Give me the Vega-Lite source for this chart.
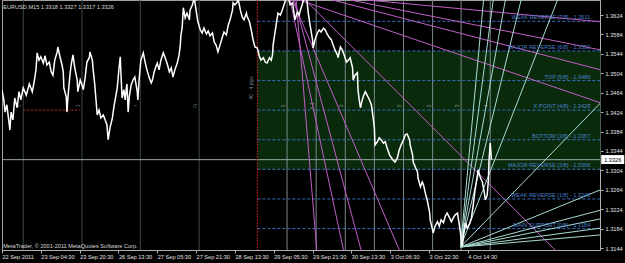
{
  "$schema": "https://vega.github.io/schema/vega-lite/v6.json",
  "width": 598,
  "height": 250,
  "autosize": {"type": "none"},
  "padding": {"left": 2, "top": 0, "right": 25, "bottom": 13},
  "background": "#000000",
  "config": {
    "view": {"stroke": "#a0a0a0", "strokeWidth": 1},
    "font": "Liberation Sans",
    "axis": {"labelFont": "Liberation Sans", "labelFontSize": 5.6, "labelColor": "#e0e0e0", "tickColor": "#b0b0b0", "domainColor": "#b0b0b0", "tickSize": 3, "grid": false, "labelOverlap": false, "labelFlush": false, "labelBound": false}
  },
  "datasets": {
    "price": [
      {"b":0,"p":1.3470},{"b":3,"p":1.3449},{"b":5,"p":1.3424},{"b":8,"p":1.3439},{"b":12,"p":1.3398},{"b":13,"p":1.3387},{"b":15,"p":1.3424},{"b":18,"p":1.3408},{"b":21,"p":1.3453},{"b":25,"p":1.3433},{"b":28,"p":1.3466},{"b":31,"p":1.3449},{"b":35,"p":1.3474},{"b":40,"p":1.3459},{"b":45,"p":1.3482},{"b":50,"p":1.3466},{"b":53,"p":1.3486},{"b":56,"p":1.3511},{"b":58,"p":1.3546},{"b":61,"p":1.3531},{"b":64,"p":1.3538},{"b":68,"p":1.3525},{"b":71,"p":1.3540},{"b":74,"p":1.3521},{"b":78,"p":1.3527},{"b":81,"p":1.3507},{"b":84,"p":1.3500},{"b":87,"p":1.3531},{"b":91,"p":1.3548},{"b":92,"p":1.3558},{"b":96,"p":1.3536},{"b":99,"p":1.3521},{"b":101,"p":1.3507},{"b":102,"p":1.3474},{"b":106,"p":1.3455},{"b":107,"p":1.3424},{"b":109,"p":1.3459},{"b":112,"p":1.3500},{"b":114,"p":1.3521},{"b":117,"p":1.3542},{"b":120,"p":1.3515},{"b":124,"p":1.3490},{"b":125,"p":1.3466},{"b":129,"p":1.3490},{"b":132,"p":1.3480},{"b":134,"p":1.3470},{"b":137,"p":1.3494},{"b":140,"p":1.3527},{"b":144,"p":1.3536},{"b":145,"p":1.3548},{"b":149,"p":1.3531},{"b":150,"p":1.3515},{"b":153,"p":1.3480},{"b":155,"p":1.3449},{"b":157,"p":1.3418},{"b":160,"p":1.3428},{"b":163,"p":1.3412},{"b":167,"p":1.3418},{"b":170,"p":1.3408},{"b":173,"p":1.3398},{"b":175,"p":1.3367},{"b":178,"p":1.3391},{"b":182,"p":1.3412},{"b":185,"p":1.3439},{"b":188,"p":1.3459},{"b":190,"p":1.3474},{"b":193,"p":1.3515},{"b":195,"p":1.3538},{"b":196,"p":1.3507},{"b":198,"p":1.3453},{"b":201,"p":1.3470},{"b":203,"p":1.3449},{"b":205,"p":1.3474},{"b":206,"p":1.3482},{"b":208,"p":1.3424},{"b":210,"p":1.3457},{"b":213,"p":1.3480},{"b":216,"p":1.3490},{"b":219,"p":1.3496},{"b":223,"p":1.3466},{"b":224,"p":1.3449},{"b":226,"p":1.3490},{"b":229,"p":1.3531},{"b":233,"p":1.3546},{"b":236,"p":1.3527},{"b":239,"p":1.3511},{"b":243,"p":1.3494},{"b":246,"p":1.3484},{"b":248,"p":1.3490},{"b":251,"p":1.3507},{"b":254,"p":1.3519},{"b":256,"p":1.3525},{"b":259,"p":1.3511},{"b":262,"p":1.3531},{"b":266,"p":1.3546},{"b":269,"p":1.3536},{"b":272,"p":1.3525},{"b":276,"p":1.3507},{"b":279,"p":1.3515},{"b":282,"p":1.3496},{"b":285,"p":1.3511},{"b":289,"p":1.3525},{"b":292,"p":1.3542},{"b":294,"p":1.3562},{"b":295,"p":1.3583},{"b":297,"p":1.3597},{"b":299,"p":1.3639},{"b":302,"p":1.3618},{"b":305,"p":1.3628},{"b":309,"p":1.3614},{"b":310,"p":1.3634},{"b":314,"p":1.3645},{"b":317,"p":1.3660},{"b":320,"p":1.3634},{"b":323,"p":1.3610},{"b":327,"p":1.3593},{"b":330,"p":1.3587},{"b":333,"p":1.3597},{"b":337,"p":1.3585},{"b":340,"p":1.3591},{"b":343,"p":1.3581},{"b":347,"p":1.3587},{"b":350,"p":1.3568},{"b":353,"p":1.3562},{"b":356,"p":1.3548},{"b":360,"p":1.3564},{"b":363,"p":1.3577},{"b":366,"p":1.3589},{"b":370,"p":1.3583},{"b":373,"p":1.3603},{"b":376,"p":1.3614},{"b":380,"p":1.3634},{"b":381,"p":1.3649},{"b":384,"p":1.3645},{"b":388,"p":1.3651},{"b":389,"p":1.3660},{"b":393,"p":1.3634},{"b":396,"p":1.3620},{"b":399,"p":1.3614},{"b":403,"p":1.3628},{"b":404,"p":1.3622},{"b":408,"p":1.3610},{"b":411,"p":1.3593},{"b":414,"p":1.3573},{"b":417,"p":1.3558},{"b":421,"p":1.3556},{"b":424,"p":1.3540},{"b":427,"p":1.3531},{"b":431,"p":1.3536},{"b":434,"p":1.3527},{"b":437,"p":1.3525},{"b":441,"p":1.3536},{"b":444,"p":1.3531},{"b":446,"p":1.3542},{"b":447,"p":1.3562},{"b":450,"p":1.3587},{"b":452,"p":1.3603},{"b":455,"p":1.3628},{"b":459,"p":1.3624},{"b":462,"p":1.3634},{"b":465,"p":1.3645},{"b":469,"p":1.3660},{"b":472,"p":1.3660},{"b":475,"p":1.3645},{"b":479,"p":1.3649},{"b":482,"p":1.3624},{"b":483,"p":1.3614},{"b":487,"p":1.3630},{"b":490,"p":1.3624},{"b":492,"p":1.3634},{"b":495,"p":1.3645},{"b":498,"p":1.3660},{"b":502,"p":1.3660},{"b":503,"p":1.3651},{"b":505,"p":1.3628},{"b":508,"p":1.3603},{"b":512,"p":1.3573},{"b":513,"p":1.3556},{"b":516,"p":1.3573},{"b":520,"p":1.3587},{"b":523,"p":1.3593},{"b":526,"p":1.3589},{"b":530,"p":1.3597},{"b":533,"p":1.3593},{"b":536,"p":1.3585},{"b":540,"p":1.3577},{"b":543,"p":1.3573},{"b":546,"p":1.3562},{"b":549,"p":1.3552},{"b":553,"p":1.3542},{"b":554,"p":1.3536},{"b":558,"p":1.3558},{"b":561,"p":1.3552},{"b":564,"p":1.3542},{"b":568,"p":1.3527},{"b":571,"p":1.3531},{"b":574,"p":1.3536},{"b":578,"p":1.3515},{"b":579,"p":1.3490},{"b":582,"p":1.3500},{"b":586,"p":1.3505},{"b":587,"p":1.3470},{"b":589,"p":1.3449},{"b":591,"p":1.3433},{"b":594,"p":1.3449},{"b":596,"p":1.3457},{"b":599,"p":1.3466},{"b":602,"p":1.3459},{"b":606,"p":1.3449},{"b":609,"p":1.3439},{"b":612,"p":1.3412},{"b":614,"p":1.3391},{"b":615,"p":1.3356},{"b":619,"p":1.3363},{"b":622,"p":1.3371},{"b":625,"p":1.3367},{"b":629,"p":1.3360},{"b":632,"p":1.3363},{"b":635,"p":1.3350},{"b":639,"p":1.3336},{"b":642,"p":1.3330},{"b":645,"p":1.3325},{"b":648,"p":1.3321},{"b":652,"p":1.3330},{"b":655,"p":1.3346},{"b":658,"p":1.3356},{"b":662,"p":1.3367},{"b":665,"p":1.3377},{"b":668,"p":1.3379},{"b":672,"p":1.3367},{"b":673,"p":1.3356},{"b":677,"p":1.3336},{"b":678,"p":1.3321},{"b":682,"p":1.3309},{"b":685,"p":1.3301},{"b":686,"p":1.3288},{"b":690,"p":1.3270},{"b":693,"p":1.3280},{"b":695,"p":1.3274},{"b":698,"p":1.3257},{"b":701,"p":1.3243},{"b":705,"p":1.3218},{"b":706,"p":1.3202},{"b":710,"p":1.3181},{"b":711,"p":1.3175},{"b":714,"p":1.3189},{"b":718,"p":1.3198},{"b":721,"p":1.3189},{"b":724,"p":1.3202},{"b":728,"p":1.3196},{"b":731,"p":1.3210},{"b":734,"p":1.3216},{"b":738,"p":1.3206},{"b":741,"p":1.3198},{"b":744,"p":1.3206},{"b":747,"p":1.3212},{"b":751,"p":1.3216},{"b":754,"p":1.3192},{"b":756,"p":1.3175},{"b":757,"p":1.3161},{"b":759,"p":1.3148},{"b":761,"p":1.3171},{"b":764,"p":1.3196},{"b":767,"p":1.3185},{"b":771,"p":1.3194},{"b":774,"p":1.3206},{"b":777,"p":1.3233},{"b":780,"p":1.3264},{"b":784,"p":1.3295},{"b":785,"p":1.3305},{"b":789,"p":1.3288},{"b":792,"p":1.3280},{"b":795,"p":1.3260},{"b":797,"p":1.3243},{"b":800,"p":1.3253},{"b":802,"p":1.3284},{"b":803,"p":1.3325},{"b":805,"p":1.3360},{"b":807,"p":1.3326}
    ],
    "fanM": [
      {"id":"M1","b":485,"p":1.3655},{"id":"M1","b":519,"p":1.3140},
      {"id":"M2","b":475,"p":1.3655},{"id":"M2","b":563,"p":1.3140},
      {"id":"M3","b":482,"p":1.3655},{"id":"M3","b":592,"p":1.3140},
      {"id":"M4","b":479,"p":1.3655},{"id":"M4","b":655,"p":1.3140},
      {"id":"M5","b":500,"p":1.3655},{"id":"M5","b":912,"p":1.3140},
      {"id":"M6","b":490,"p":1.3655},{"id":"M6","b":987,"p":1.3443},
      {"id":"M7","b":545,"p":1.3655},{"id":"M7","b":987,"p":1.3511},
      {"id":"M8","b":574,"p":1.3655},{"id":"M8","b":987,"p":1.3552},
      {"id":"M9","b":601,"p":1.3655},{"id":"M9","b":987,"p":1.3610}
    ],
    "fanC": [
      {"id":"C1","b":756,"p":1.3146},{"id":"C1","b":794,"p":1.3655},
      {"id":"C2","b":756,"p":1.3146},{"id":"C2","b":810,"p":1.3655},
      {"id":"C3","b":756,"p":1.3146},{"id":"C3","b":830,"p":1.3655},
      {"id":"C4","b":756,"p":1.3146},{"id":"C4","b":856,"p":1.3655},
      {"id":"C5","b":756,"p":1.3146},{"id":"C5","b":916,"p":1.3655},
      {"id":"C6","b":756,"p":1.3146},{"id":"C6","b":987,"p":1.3443},
      {"id":"C7","b":756,"p":1.3146},{"id":"C7","b":987,"p":1.3264},
      {"id":"C8","b":756,"p":1.3146},{"id":"C8","b":987,"p":1.3222},
      {"id":"C9","b":756,"p":1.3146},{"id":"C9","b":987,"p":1.3204},
      {"id":"C10","b":756,"p":1.3146},{"id":"C10","b":987,"p":1.3185},
      {"id":"C11","b":756,"p":1.3146},{"id":"C11","b":987,"p":1.3171}
    ],
    "vld": [
      {"b":35,"t":"5"},{"b":132,"t":"1"},{"b":228,"t":"f"},{"b":325,"t":"Fi"}
    ],
    "vll": [
      {"b":470,"t":"5"},{"b":518,"t":"5.1"},{"b":566,"t":"3"},{"b":614,"t":""},
      {"b":662,"t":"5"},{"b":710,"t":"2"},{"b":757,"t":"3"},{"b":805,"t":"4"}
    ],
    "mm": [
      {"p":1.3611,"t":"WEAK REVERSE  [7/8] - 1.3611"},
      {"p":1.3550,"t":"MAJOR REVERSE  [6/8] - 1.3550"},
      {"p":1.3489,"t":"TOP  [5/8] - 1.3489"},
      {"p":1.3428,"t":"X POINT  [4/8] - 1.3428"},
      {"p":1.3367,"t":"BOTTOM  [3/8] - 1.3367"},
      {"p":1.3306,"t":"MAJOR REVERSE  [2/8] - 1.3306"},
      {"p":1.3245,"t":"WEAK REVERSE  [1/8] - 1.3245"},
      {"p":1.3184,"t":"MAIN SUPPORT  [0/8] - 1.3184"}
    ]
  },
  "layer": [
    {
      "data": {"values": [{"b":421,"b2":987,"p":1.3550,"p2":1.3306}]},
      "mark": {"type": "rect", "color": "#0a2a0c"},
      "encoding": {
        "x": {"field": "b", "type": "quantitative", "title": null, "scale": {"domain": [0, 986], "nice": false, "zero": false},
              "axis": {"values": [0,64,128,192,256,320,384,448,512,576,640,704,768], "tickCount": 30, "labelAlign": "left", "labelBaseline": "top", "labelPadding": 1, "labelOverlap": false, "labelFlush": false, "title": null,
                       "labelExpr": "['22 Sep 2011','23 Sep 04:30','23 Sep 20:30','26 Sep 13:30','27 Sep 05:30','27 Sep 21:30','28 Sep 13:30','29 Sep 05:30','29 Sep 21:30','30 Sep 13:30','3 Oct 06:30','3 Oct 22:30','4 Oct 14:30'][round(datum.value/64)]"}},
        "x2": {"field": "b2"},
        "y": {"field": "p", "type": "quantitative", "title": null, "scale": {"domain": [1.31399, 1.36549], "nice": false, "zero": false},
              "axis": {"orient": "right", "values": [1.3144,1.3184,1.3224,1.3264,1.3304,1.3344,1.3384,1.3424,1.3464,1.3504,1.3544,1.3584,1.3624], "tickCount": 30, "format": ".4f", "labelPadding": 2, "labelOverlap": false, "labelFlush": false, "title": null}},
        "y2": {"field": "p2"}
      }
    },
    {
      "data": {"name": "vld"},
      "mark": {"type": "rule", "strokeWidth": 1, "color": "#3c4848"},
      "encoding": {"x": {"field": "b", "type": "quantitative", "title": null}}
    },
    {
      "data": {"name": "vll"},
      "mark": {"type": "rule", "strokeWidth": 1, "color": "#7a8888"},
      "encoding": {"x": {"field": "b", "type": "quantitative", "title": null}}
    },
    {
      "data": {"name": "vld"},
      "mark": {"type": "text", "fontSize": 5, "angle": 270, "dy": -4, "color": "#6a7a7a"},
      "encoding": {
        "x": {"field": "b", "type": "quantitative", "title": null},
        "y": {"datum": 1.3437, "type": "quantitative", "title": null},
        "text": {"field": "t"}
      }
    },
    {
      "data": {"name": "vll"},
      "mark": {"type": "text", "fontSize": 5, "angle": 270, "dy": -4, "color": "#7a8a8a"},
      "encoding": {
        "x": {"field": "b", "type": "quantitative", "title": null},
        "y": {"datum": 1.3437, "type": "quantitative", "title": null},
        "text": {"field": "t"}
      }
    },
    {
      "data": {"values": [{"p": 1.3326}]},
      "mark": {"type": "rule", "color": "#9aa6a6", "strokeWidth": 1},
      "encoding": {"y": {"field": "p", "type": "quantitative", "title": null}}
    },
    {
      "data": {"name": "mm"},
      "mark": {"type": "rule", "color": "#3a6fc0", "strokeWidth": 1, "strokeDash": [3, 2]},
      "encoding": {
        "x": {"datum": 421, "type": "quantitative", "title": null},
        "x2": {"datum": 987},
        "y": {"field": "p", "type": "quantitative", "title": null}
      }
    },
    {
      "data": {"values": [{"b": 421}]},
      "mark": {"type": "rule", "color": "#b82020", "strokeWidth": 1, "strokeDash": [2, 1]},
      "encoding": {"x": {"field": "b", "type": "quantitative", "title": null}}
    },
    {
      "data": {"values": [{"b": 35, "b2": 129, "p": 1.3428}]},
      "mark": {"type": "rule", "color": "#c03030", "strokeWidth": 1, "strokeDash": [2, 2]},
      "encoding": {
        "x": {"field": "b", "type": "quantitative", "title": null},
        "x2": {"field": "b2"},
        "y": {"field": "p", "type": "quantitative", "title": null}
      }
    },
    {
      "data": {"name": "fanM"},
      "mark": {"type": "line", "strokeWidth": 1, "clip": true, "color": "#c25ec8"},
      "encoding": {
        "x": {"field": "b", "type": "quantitative", "title": null},
        "y": {"field": "p", "type": "quantitative", "title": null},
        "detail": {"field": "id"}
      }
    },
    {
      "data": {"name": "fanC"},
      "mark": {"type": "line", "strokeWidth": 1, "clip": true, "color": "#a8dcd2"},
      "encoding": {
        "x": {"field": "b", "type": "quantitative", "title": null},
        "y": {"field": "p", "type": "quantitative", "title": null},
        "detail": {"field": "id"}
      }
    },
    {
      "data": {"name": "price"},
      "mark": {"type": "line", "color": "#ffffff", "strokeWidth": 1.5, "clip": true},
      "encoding": {
        "x": {"field": "b", "type": "quantitative", "title": null},
        "y": {"field": "p", "type": "quantitative", "title": null}
      }
    },
    {
      "data": {"name": "mm"},
      "mark": {"type": "text", "align": "right", "baseline": "bottom", "dy": -1, "fontSize": 5.6, "color": "#4a80c8"},
      "encoding": {
        "x": {"datum": 970, "type": "quantitative", "title": null},
        "y": {"field": "p", "type": "quantitative", "title": null},
        "text": {"field": "t"}
      }
    },
    {
      "data": {"values": [{"b": 411, "p": 1.3474, "t": "40 - 4 pips"}]},
      "mark": {"type": "text", "angle": 270, "fontSize": 5, "color": "#708090"},
      "encoding": {
        "x": {"field": "b", "type": "quantitative", "title": null},
        "y": {"field": "p", "type": "quantitative", "title": null},
        "text": {"field": "t"}
      }
    },
    {
      "data": {"values": [
        {"b": 2, "p": 1.3641, "t": "EURUSD,M15  1.3318 1.3327 1.3317 1.3326"},
        {"b": 2, "p": 1.3148, "t": "MetaTrader, © 2001-2011 MetaQuotes Software Corp."}
      ]},
      "mark": {"type": "text", "align": "left", "baseline": "middle", "fontSize": 5.6, "color": "#d8d8d8"},
      "encoding": {
        "x": {"field": "b", "type": "quantitative", "title": null},
        "y": {"field": "p", "type": "quantitative", "title": null},
        "text": {"field": "t"}
      }
    },
    {
      "data": {"values": [{"b": 988, "b2": 1026, "p": 1.33355, "p2": 1.33170}]},
      "mark": {"type": "rect", "color": "#ffffff"},
      "encoding": {
        "x": {"field": "b", "type": "quantitative", "title": null},
        "x2": {"field": "b2"},
        "y": {"field": "p", "type": "quantitative", "title": null},
        "y2": {"field": "p2"}
      }
    },
    {
      "data": {"values": [{"b": 1007, "p": 1.3326, "t": "1.3326"}]},
      "mark": {"type": "text", "align": "center", "baseline": "middle", "fontSize": 5.6, "color": "#000000"},
      "encoding": {
        "x": {"field": "b", "type": "quantitative", "title": null},
        "y": {"field": "p", "type": "quantitative", "title": null},
        "text": {"field": "t"}
      }
    }
  ]
}
